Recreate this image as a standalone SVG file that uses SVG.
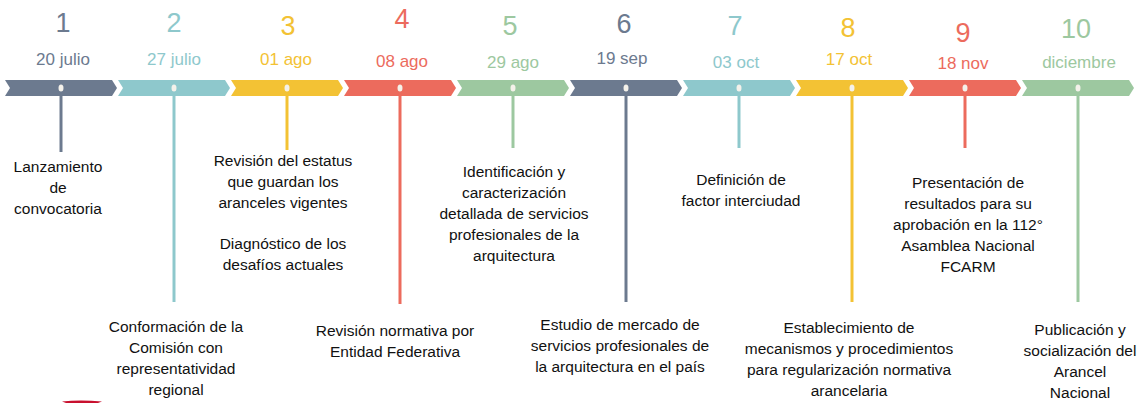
<svg xmlns="http://www.w3.org/2000/svg" width="1141" height="403" viewBox="0 0 1141 403">
<style>
text{font-family:"Liberation Sans",Arial,sans-serif;text-anchor:middle}
.num{font-size:27px}
.date{font-size:17px}
.t{font-size:15.5px;fill:#111111}
.c1{fill:#6c7a8f}.c2{fill:#8ec8cc}.c3{fill:#f3c234}.c4{fill:#ec6b5d}.c5{fill:#9dc8a0}
.s1{stroke:#6c7a8f}.s2{stroke:#8ec8cc}.s3{stroke:#f3c234}.s4{stroke:#ec6b5d}.s5{stroke:#9dc8a0}
.ln{stroke-width:3;fill:none}
.dot{fill:#f4f1ea}
</style>
<rect width="1141" height="403" fill="#ffffff"/>
<g id="band">
<path class="c1" d="M5,80 L112,80 L117,88 L112,96 L5,96 L10,88 Z"/>
<path class="c2" d="M118,80 L225,80 L230,88 L225,96 L118,96 L123,88 Z"/>
<path class="c3" d="M231,80 L338,80 L343,88 L338,96 L231,96 L236,88 Z"/>
<path class="c4" d="M344,80 L451,80 L456,88 L451,96 L344,96 L349,88 Z"/>
<path class="c5" d="M457,80 L564,80 L569,88 L564,96 L457,96 L462,88 Z"/>
<path class="c1" d="M570,80 L677,80 L682,88 L677,96 L570,96 L575,88 Z"/>
<path class="c2" d="M683,80 L790,80 L795,88 L790,96 L683,96 L688,88 Z"/>
<path class="c3" d="M796,80 L903,80 L908,88 L903,96 L796,96 L801,88 Z"/>
<path class="c4" d="M909,80 L1016,80 L1021,88 L1016,96 L909,96 L914,88 Z"/>
<path class="c5" d="M1022,80 L1129,80 L1134,88 L1129,96 L1022,96 L1027,88 Z"/>
</g>
<g id="connectors">
<line class="ln s1" x1="61" y1="90" x2="61" y2="152"/>
<line class="ln s2" x1="174" y1="90" x2="174" y2="302"/>
<line class="ln s3" x1="287" y1="90" x2="287" y2="150"/>
<line class="ln s4" x1="400" y1="90" x2="400" y2="304"/>
<line class="ln s5" x1="513" y1="90" x2="513" y2="148"/>
<line class="ln s1" x1="626" y1="90" x2="626" y2="302"/>
<line class="ln s2" x1="739" y1="90" x2="739" y2="148"/>
<line class="ln s3" x1="852" y1="90" x2="852" y2="302"/>
<line class="ln s4" x1="965" y1="90" x2="965" y2="148"/>
<line class="ln s5" x1="1078" y1="90" x2="1078" y2="302"/>
</g>
<g id="dots">
<ellipse class="dot" cx="61" cy="88" rx="2.5" ry="3.5"/>
<ellipse class="dot" cx="174" cy="88" rx="2.5" ry="3.5"/>
<ellipse class="dot" cx="287" cy="88" rx="2.5" ry="3.5"/>
<ellipse class="dot" cx="400" cy="88" rx="2.5" ry="3.5"/>
<ellipse class="dot" cx="513" cy="88" rx="2.5" ry="3.5"/>
<ellipse class="dot" cx="626" cy="88" rx="2.5" ry="3.5"/>
<ellipse class="dot" cx="739" cy="88" rx="2.5" ry="3.5"/>
<ellipse class="dot" cx="852" cy="88" rx="2.5" ry="3.5"/>
<ellipse class="dot" cx="965" cy="88" rx="2.5" ry="3.5"/>
<ellipse class="dot" cx="1078" cy="88" rx="2.5" ry="3.5"/>
</g>
<g id="node1">
<text class="num c1" x="63" y="32">1</text>
<text class="date c1" x="63" y="65">20 julio</text>
<text class="t" x="58" y="172">Lanzamiento</text>
<text class="t" x="58" y="193">de</text>
<text class="t" x="58" y="214">convocatoria</text>
</g>
<g id="node2">
<text class="num c2" x="174" y="32">2</text>
<text class="date c2" x="174" y="65">27 julio</text>
<text class="t" x="176" y="332">Conformación de la</text>
<text class="t" x="176" y="353">Comisión con</text>
<text class="t" x="176" y="374">representatividad</text>
<text class="t" x="176" y="395">regional</text>
</g>
<g id="node3">
<text class="num c3" x="288" y="35">3</text>
<text class="date c3" x="286" y="65">01 ago</text>
<text class="t" x="283" y="166">Revisión del estatus</text>
<text class="t" x="283" y="187">que guardan los</text>
<text class="t" x="283" y="208">aranceles vigentes</text>
<text class="t" x="283" y="249">Diagnóstico de los</text>
<text class="t" x="283" y="270">desafíos actuales</text>
</g>
<g id="node4">
<text class="num c4" x="402" y="28">4</text>
<text class="date c4" x="402" y="67">08 ago</text>
<text class="t" x="395" y="336">Revisión normativa por</text>
<text class="t" x="395" y="357">Entidad Federativa</text>
</g>
<g id="node5">
<text class="num c5" x="510" y="35">5</text>
<text class="date c5" x="513" y="68">29 ago</text>
<text class="t" x="514" y="177">Identificación y</text>
<text class="t" x="514" y="198">caracterización</text>
<text class="t" x="514" y="219">detallada de servicios</text>
<text class="t" x="514" y="240">profesionales de la</text>
<text class="t" x="514" y="261">arquitectura</text>
</g>
<g id="node6">
<text class="num c1" x="624" y="33">6</text>
<text class="date c1" x="622" y="64">19 sep</text>
<text class="t" x="620" y="330">Estudio de mercado de</text>
<text class="t" x="620" y="351">servicios profesionales de</text>
<text class="t" x="620" y="372">la arquitectura en el país</text>
</g>
<g id="node7">
<text class="num c2" x="735" y="35">7</text>
<text class="date c2" x="736" y="68">03 oct</text>
<text class="t" x="741" y="185">Definición de</text>
<text class="t" x="741" y="206">factor interciudad</text>
</g>
<g id="node8">
<text class="num c3" x="848" y="37">8</text>
<text class="date c3" x="849" y="65">17 oct</text>
<text class="t" x="849" y="333">Establecimiento de</text>
<text class="t" x="849" y="354">mecanismos y procedimientos</text>
<text class="t" x="849" y="375">para regularización normativa</text>
<text class="t" x="849" y="396">arancelaria</text>
</g>
<g id="node9">
<text class="num c4" x="963" y="42">9</text>
<text class="date c4" x="963" y="69">18 nov</text>
<text class="t" x="968" y="188">Presentación de</text>
<text class="t" x="968" y="209">resultados para su</text>
<text class="t" x="968" y="230">aprobación en la 112°</text>
<text class="t" x="968" y="251">Asamblea Nacional</text>
<text class="t" x="968" y="272">FCARM</text>
</g>
<g id="node10">
<text class="num c5" x="1076" y="38">10</text>
<text class="date c5" x="1079" y="68">diciembre</text>
<text class="t" x="1080" y="335">Publicación y</text>
<text class="t" x="1080" y="356">socialización del</text>
<text class="t" x="1080" y="377">Arancel</text>
<text class="t" x="1080" y="398">Nacional</text>
</g>
<path d="M62,401.5 Q80,399.5 102,401.5 L98,403 L66,403 Z" fill="#c8102e"/>
</svg>
